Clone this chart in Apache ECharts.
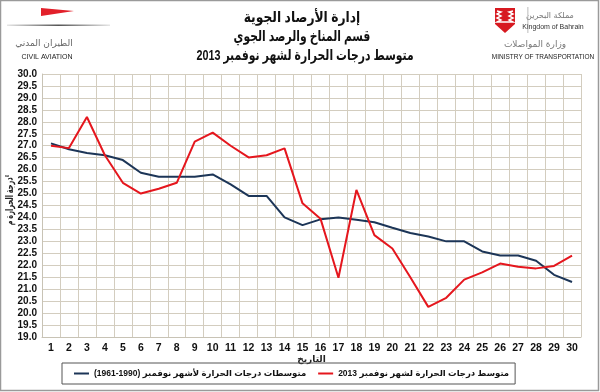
<!DOCTYPE html>
<html><head><meta charset="utf-8">
<script src="https://cdn.jsdelivr.net/npm/echarts@6/dist/echarts.min.js"></script>
<style>html,body{margin:0;padding:0;background:#fff}#c{width:600px;height:392px}</style>
</head><body><div id="c"></div>
<script>
const days = ['1','2','3','4','5','6','7','8','9','10','11','12','13','14','15','16','17','18','19','20','21','22','23','24','25','26','27','28','29','30'];
const normalName = 'متوسطات درجات الحرارة لأشهر نوفمبر (1990-1961)';
const currentName = 'متوسط درجات الحرارة لشهر نوفمبر 2013';
const normal1961_1990 = [27.1,26.85,26.7,26.6,26.4,25.87,25.7,25.7,25.7,25.8,25.38,24.9,24.9,24.0,23.68,23.92,24.0,23.9,23.8,23.57,23.35,23.2,23.0,23.0,22.58,22.41,22.41,22.19,21.6,21.3];
const nov2013 = [27.0,26.9,28.2,26.6,25.45,25.0,25.2,25.45,27.17,27.55,27.0,26.51,26.6,26.89,24.59,23.95,21.48,25.15,23.26,22.7,21.5,20.26,20.64,21.4,21.7,22.07,21.94,21.87,21.97,22.4];
const yTitle = 'درجة الحرارة م°';
const xTitle = 'التاريخ';
const titleLines = ['إدارة الأرصاد الجوية','قسم المناخ والرصد الجوي','متوسط درجات الحرارة لشهر نوفمبر 2013'];

const chart = echarts.init(document.getElementById('c'));
const F = '"Liberation Sans", "DejaVu Sans", Arial, sans-serif';
chart.setOption({
  backgroundColor: '#fff',
  animation: false,
  textStyle: {fontFamily: F},
  grid: {left: 42, right: 19, top: 74, bottom: 55, containLabel: false, outerBoundsMode: 'none'},
  xAxis: {
    type: 'category', data: days, boundaryGap: true,
    name: xTitle, nameLocation: 'middle', nameGap: 18, nameMoveOverlap: false,
    nameTextStyle: {fontSize: 9, fontWeight: 'bold', color: '#222', fontFamily: F},
    axisLine: {lineStyle: {color: '#c8c3b5'}},
    axisTick: {show: false},
    axisLabel: {fontSize: 10.5, fontWeight: 'bold', color: '#111', margin: 6, interval: 0, fontFamily: F},
    splitLine: {show: true, interval: 0, lineStyle: {color: '#d3cdbf', width: 1}}
  },
  yAxis: {
    type: 'value', min: 19, max: 30, interval: 0.5,
    axisLine: {show: true, lineStyle: {color: '#c8c3b5'}},
    axisTick: {show: false},
    axisLabel: {fontSize: 10, fontWeight: 'bold', color: '#111', margin: 5, formatter: v => v.toFixed(1), fontFamily: F},
    splitLine: {show: true, lineStyle: {color: '#d3cdbf', width: 1}}
  },
  legend: {
    data: [normalName, currentName],
    left: 62, top: 363,
    orient: 'horizontal',
    itemWidth: 15, itemHeight: 2, itemGap: 12,
    icon: 'rect',
    borderColor: '#555', borderWidth: 1,
    padding: [6, 6, 6, 12],
    textStyle: {fontSize: 8.5, fontWeight: 'bold', color: '#111', fontFamily: F}
  },
  series: [
    {name: normalName, type: 'line', data: normal1961_1990, symbol: 'none',
     lineStyle: {color: '#1c3557', width: 2}, itemStyle: {color: '#1c3557'}},
    {name: currentName, type: 'line', data: nov2013, symbol: 'none',
     lineStyle: {color: '#e5161d', width: 2}, itemStyle: {color: '#e5161d'}}
  ],
  graphic: [
    {type: 'rect', shape: {x: 0.5, y: 0.5, width: 598, height: 390}, style: {fill: 'none', stroke: '#9a9a9a', lineWidth: 1.5}, silent: true},
    {type: 'text', x: 302, y: 18, scaleX: 0.82, style: {text: titleLines[0], font: 'bold 15px ' + F, fill: '#111', align: 'center', verticalAlign: 'middle'}},
    {type: 'text', x: 302, y: 37, scaleX: 0.72, style: {text: titleLines[1], font: 'bold 15px ' + F, fill: '#111', align: 'center', verticalAlign: 'middle'}},
    {type: 'text', x: 305, y: 56, scaleX: 0.72, style: {text: titleLines[2], font: 'bold 15px ' + F, fill: '#111', align: 'center', verticalAlign: 'middle'}},
    // y axis title
    {type: 'text', x: 10, y: 200, rotation: Math.PI / 2, scaleX: 0.6, style: {text: yTitle, font: 'bold 11px ' + F, fill: '#222', align: 'center', verticalAlign: 'middle'}},
    // civil aviation logo
    {type: 'polygon', shape: {points: [[41,8],[41,16],[74,11]]}, style: {fill: '#e2202a'}},
    {type: 'rect', shape: {x: 7, y: 24.5, width: 103, height: 1.5},
     style: {fill: new echarts.graphic.LinearGradient(0,0,1,0,[{offset:0,color:'#e6e6e6'},{offset:0.5,color:'#555'},{offset:1,color:'#e6e6e6'}])}},
    {type: 'text', x: 44, y: 44, style: {text: 'الطيران المدني', font: '9px "DejaVu Sans", sans-serif', fill: '#666', align: 'center', verticalAlign: 'middle'}},
    {type: 'text', x: 47, y: 57, style: {text: 'CIVIL AVIATION', font: '7px ' + F, fill: '#222', align: 'center', verticalAlign: 'middle'}},
    // Bahrain emblem
    {type: 'polygon', shape: {points: [[495,8],[515,8],[515,24],[505,33],[495,24]]}, style: {fill: '#d71920'}},
    {type: 'polyline', shape: {points: [[497,11],[501,12],[497,14],[501,16],[497,18],[501,20],[497,22],[505,22],[513,22],[509,20],[513,18],[509,16],[513,14],[509,12],[513,11]]}, style: {stroke: '#fff', lineWidth: 1.4, fill: 'none'}},
    {type: 'rect', shape: {x: 527.5, y: 7, width: 0.8, height: 26}, style: {fill: '#aaa'}},
    {type: 'text', x: 550, y: 16, style: {text: 'مملكة البحرين', font: '8px "DejaVu Sans", sans-serif', fill: '#777', align: 'center', verticalAlign: 'middle'}},
    {type: 'text', x: 553, y: 27, style: {text: 'Kingdom of Bahrain', font: '7px ' + F, fill: '#333', align: 'center', verticalAlign: 'middle'}},
    {type: 'text', x: 535, y: 45, style: {text: 'وزارة المواصلات', font: '9px "DejaVu Sans", sans-serif', fill: '#777', align: 'center', verticalAlign: 'middle'}},
    {type: 'text', x: 543, y: 57, style: {text: 'MINISTRY OF TRANSPORTATION', font: '6.5px ' + F, fill: '#222', align: 'center', verticalAlign: 'middle'}}
  ]
});
</script></body></html>
